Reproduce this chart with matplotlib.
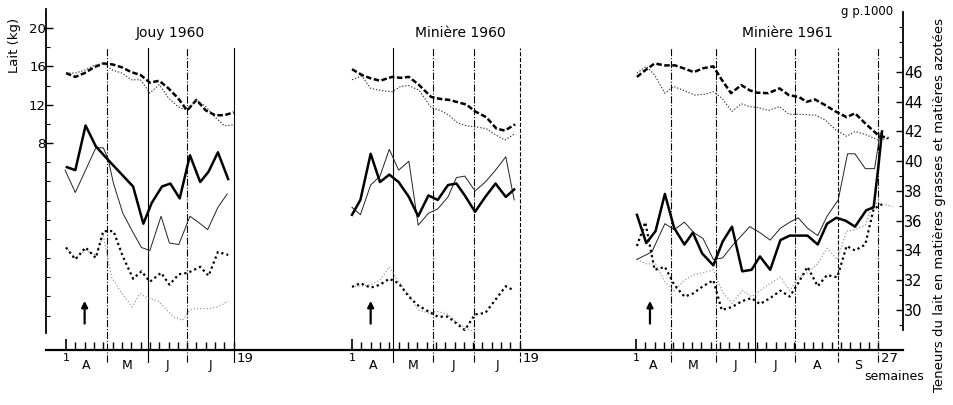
import numpy as np
import matplotlib
matplotlib.use("Agg")
import matplotlib.pyplot as plt
from matplotlib.transforms import blended_transform_factory

# --- layout of the three trials on one week axis ---
panel_names = ["Jouy 1960", "Minière 1960", "Minière 1961"]
panel_offset = [0.0, 30.69, 61.16]
panel_weeks = [19, 19, 27]
panel_end_label = ["19", "19", "27"]
month_bounds = [[5.4, 9.8, 14.0, 19.0],
                [5.45, 9.7, 14.1, 19.0],
                [4.76, 9.6, 13.8, 18.1, 22.7, 27.0]]
month_styles = [["-.", "-", "-.", "-"],
                ["-", "-.", "-.", "--"],
                ["-.", "-.", "-", "-.", "--", "-."]]
month_labels = [["A", "M", "J", "J"],
                ["A", "M", "J", "J"],
                ["A", "M", "J", "J", "A", "S"]]
title_week = [12.2, 12.6, 17.3]
arrow_week = [3.0, 3.0, 2.5]

# --- Jouy 1960 ---
j60_milk_wk = list(range(1, 20))
j60_milk_1 = [15.3, 14.9, 15.3, 15.9, 16.3, 16.2, 15.9, 15.4, 15.1, 14.3, 14.5, 13.7, 12.7, 11.4, 12.5, 11.4, 10.9, 10.9, 11.2]
j60_milk_2 = [15.3, 15.3, 15.6, 16.1, 16.3, 15.6, 15.3, 14.6, 14.6, 13.2, 14.1, 12.7, 11.8, 11.4, 12.5, 11.8, 10.7, 9.8, 9.9]
j60_fat1_wk = [1.1, 2.0, 3.1, 4.2, 5.5, 7.0, 8.2, 9.3, 10.2, 11.3, 12.2, 13.2, 14.3, 15.4, 16.3, 17.3, 18.4]
j60_fat1 = [39.6, 39.4, 42.4, 41.0, 40.1, 39.1, 38.3, 35.8, 37.2, 38.3, 38.5, 37.5, 40.4, 38.6, 39.3, 40.6, 38.8]
j60_fat2_wk = [0.9, 2.0, 4.2, 5.0, 5.5, 6.1, 7.1, 8.2, 9.1, 10.0, 11.2, 12.1, 13.1, 14.3, 15.2, 16.2, 17.3, 18.3]
j60_fat2 = [39.4, 37.9, 40.9, 40.9, 40.2, 38.5, 36.5, 35.2, 34.2, 34.0, 36.3, 34.5, 34.4, 36.3, 35.9, 35.4, 36.9, 37.8]
j60_prot1_wk = [1.0, 2.0, 3.1, 4.2, 5.0, 6.1, 7.1, 8.2, 9.1, 10.0, 11.2, 12.1, 13.1, 14.1, 15.4, 16.3, 17.3, 18.4]
j60_prot1 = [34.2, 33.4, 34.2, 33.5, 35.3, 35.3, 33.6, 32.1, 32.6, 31.9, 32.5, 31.7, 32.4, 32.5, 32.9, 32.3, 33.9, 33.7]
j60_prot2_wk = [1.0, 2.0, 3.1, 4.2, 5.0, 5.9, 6.8, 8.1, 8.9, 9.8, 10.9, 12.5, 13.5, 14.3, 15.0, 16.4, 17.3, 18.4]
j60_prot2 = [34.2, 33.5, 34.0, 33.7, 35.0, 32.2, 31.3, 30.2, 31.1, 30.8, 30.6, 29.55, 29.3, 30.0, 30.1, 30.1, 30.2, 30.6]

# --- Minière 1960 ---
m60_milk_wk = [1.0, 2.05, 3.0, 4.0, 5.3, 6.2, 7.1, 8.2, 9.5, 10.5, 11.4, 12.4, 13.3, 14.2, 15.4, 16.5, 17.4, 18.5]
m60_milk_1 = [15.7, 15.1, 14.75, 14.5, 14.9, 14.8, 14.9, 14.05, 12.8, 12.6, 12.5, 12.25, 12.0, 11.3, 10.7, 9.5, 9.3, 9.95]
m60_milk_2 = [14.6, 15.0, 13.7, 13.5, 13.35, 13.9, 14.0, 13.5, 11.7, 11.4, 10.9, 10.05, 9.8, 9.7, 9.5, 8.8, 8.3, 9.0]
m60_wk = [1.0, 1.9, 3.0, 4.0, 5.0, 6.0, 7.1, 8.1, 9.2, 10.2, 11.3, 12.2, 13.1, 14.2, 15.3, 16.4, 17.5, 18.4]
m60_fat1 = [36.4, 37.4, 40.5, 38.6, 39.1, 38.6, 37.6, 36.3, 37.7, 37.4, 38.4, 38.5, 37.7, 36.6, 37.6, 38.5, 37.6, 38.1]
m60_fat2 = [36.9, 36.4, 38.4, 39.0, 40.8, 39.4, 40.0, 35.7, 36.5, 36.8, 37.6, 38.9, 39.0, 38.0, 38.6, 39.4, 40.3, 37.4]
m60_prot1 = [31.55, 31.8, 31.5, 31.7, 32.1, 31.8, 30.9, 30.3, 29.9, 29.55, 29.55, 29.1, 28.65, 29.7, 29.8, 30.7, 31.6, 31.3]
m60_prot2 = [31.6, 31.6, 31.7, 32.0, 32.9, 31.9, 31.0, 30.0, 29.8, 29.9, 29.7, 29.2, 28.8, 28.5]

# --- Minière 1961 ---
m61_milk1_wk = [1.1, 2.0, 3.0, 4.1, 5.2, 6.1, 7.2, 8.2, 9.3, 10.2, 11.2, 12.3, 13.2, 14.0, 15.2, 16.4, 17.4, 18.5,
                19.3, 20.2, 21.3, 22.4, 23.6, 24.5, 25.6, 27.0, 28.1]
m61_milk_1 = [14.9, 15.6, 16.3, 16.1, 16.1, 15.8, 15.4, 15.8, 16.0, 14.6, 13.2, 14.05, 13.5, 13.25, 13.2, 13.7, 13.0, 12.8,
              12.3, 12.55, 11.95, 11.3, 10.7, 11.1, 10.05, 8.8, 8.5]
m61_milk2_wk = [1.1, 2.1, 3.0, 4.1, 5.0, 6.1, 7.3, 8.4, 9.3, 10.2, 11.3, 12.3, 13.2, 14.1, 15.2, 16.4, 17.4, 18.5,
                20.3, 21.3, 22.4, 23.6, 24.5, 25.6, 27.0, 28.1]
m61_milk_2 = [15.3, 16.0, 15.1, 13.2, 13.9, 13.5, 13.0, 13.1, 13.35, 12.7, 11.3, 12.1, 11.8, 11.7, 11.4, 11.8, 11.0, 11.0,
              10.9, 10.4, 9.4, 8.7, 9.2, 8.9, 8.3, 8.5]
m61_fat1_wk = [1.1, 2.1, 3.1, 4.1, 5.1, 6.2, 7.1, 8.1, 9.3, 10.3, 11.3, 12.4, 13.4, 14.3, 15.4, 16.5, 17.5, 18.4,
               19.4, 20.5, 21.5, 22.5, 23.5, 24.5, 25.7, 26.5, 27.0, 27.4]
m61_fat1 = [36.4, 34.5, 35.3, 37.8, 35.5, 34.4, 35.2, 33.8, 33.0, 34.6, 35.6, 32.6, 32.7, 33.6, 32.7, 34.7, 35.0, 35.0,
            35.0, 34.4, 35.8, 36.2, 36.0, 35.6, 36.7, 36.9, 39.6, 42.0]
m61_fat2_wk = [1.1, 2.7, 4.1, 5.1, 6.2, 7.2, 8.2, 9.3, 10.3, 11.3, 13.2, 14.3, 15.4, 16.5, 17.5, 18.4, 19.4, 20.5,
               21.5, 22.7, 23.7, 24.5, 25.6, 26.6, 27.2]
m61_fat2 = [33.4, 33.9, 35.8, 35.4, 35.9, 35.2, 34.8, 33.4, 33.5, 34.3, 35.6, 35.2, 34.7, 35.5, 35.9, 36.2, 35.5, 35.0,
            36.3, 37.4, 40.5, 40.5, 39.5, 39.5, 41.9]
m61_prot1_wk = [1.1, 2.0, 3.0, 4.1, 5.1, 6.2, 7.1, 8.2, 9.3, 10.2, 11.3, 12.4, 13.4, 14.3, 15.4, 16.5, 17.5, 18.4,
                19.4, 20.5, 21.5, 22.6, 23.6, 24.5, 25.6, 26.5, 27.4]
m61_prot1 = [34.3, 35.9, 32.7, 32.9, 31.7, 30.9, 31.1, 31.6, 32.0, 30.0, 30.2, 30.6, 30.8, 30.4, 30.8, 31.3, 30.9, 31.8,
             32.9, 31.6, 32.35, 32.2, 34.3, 34.0, 34.4, 36.8, 37.1]
m61_prot2_wk = [1.1, 2.1, 3.1, 4.1, 5.1, 6.2, 7.1, 8.2, 9.3, 10.3, 11.3, 12.4, 13.4, 14.3, 15.4, 16.5, 17.5, 18.4,
                19.4, 20.5, 21.5, 22.6, 23.6, 24.5, 25.6, 26.5, 27.6, 28.5]
m61_prot2 = [33.4, 33.1, 33.1, 31.9, 31.3, 32.0, 32.35, 32.5, 32.7, 31.2, 30.45, 31.3, 30.9, 31.3, 31.8, 32.2, 31.3, 32.2,
             32.5, 33.1, 34.15, 33.4, 35.3, 35.4, 35.7, 37.2, 37.1, 36.95]

# line styles
st_milk1 = dict(color="black", lw=1.8, dashes=(2.2, 1.0))
st_milk2 = dict(color="#333333", lw=0.8, dashes=(1.2, 1.6))
st_fat1 = dict(color="black", lw=1.8)
st_fat2 = dict(color="#222222", lw=0.7)
st_prot1 = dict(color="black", lw=1.6, dashes=(1.0, 1.4))
st_prot2 = dict(color="#9a9a9a", lw=0.9, dashes=(1.0, 1.6))

milk_series = [
    (0, j60_milk_wk, j60_milk_1, st_milk1), (0, j60_milk_wk, j60_milk_2, st_milk2),
    (1, m60_milk_wk, m60_milk_1, st_milk1), (1, m60_milk_wk, m60_milk_2, st_milk2),
    (2, m61_milk1_wk, m61_milk_1, st_milk1), (2, m61_milk2_wk, m61_milk_2, st_milk2),
]
content_series = [
    (0, j60_prot2_wk, j60_prot2, st_prot2), (0, j60_prot1_wk, j60_prot1, st_prot1),
    (0, j60_fat2_wk, j60_fat2, st_fat2), (0, j60_fat1_wk, j60_fat1, st_fat1),
    (1, m60_wk[:len(m60_prot2)], m60_prot2, st_prot2), (1, m60_wk, m60_prot1, st_prot1),
    (1, m60_wk, m60_fat2, st_fat2), (1, m60_wk, m60_fat1, st_fat1),
    (2, m61_prot2_wk, m61_prot2, st_prot2), (2, m61_prot1_wk, m61_prot1, st_prot1),
    (2, m61_fat2_wk, m61_fat2, st_fat2), (2, m61_fat1_wk, m61_fat1, st_fat1),
]

W, H = 954, 405
fig = plt.figure(figsize=(W / 100, H / 100), dpi=100)
ax = fig.add_axes([46 / W, 1 - 350 / H, (903 - 46) / W, (350 - 8) / H])
ax2 = ax.twinx()

ax.set_xlim(-1.146, 90.81)
ax.set_ylim(-13.6, 22.09)
ax2.set_ylim(27.31, 50.30)

for p, wk, val, st in milk_series:
    ax.plot(np.array(wk) + panel_offset[p], val, **st)
for p, wk, val, st in content_series:
    ax2.plot(np.array(wk) + panel_offset[p], val, **st)

# spines
for a in (ax, ax2):
    a.spines["top"].set_visible(False)
ax2.spines["left"].set_visible(False)
ax2.spines["bottom"].set_visible(False)
ax.spines["right"].set_visible(False)
ax.spines["left"].set_bounds(-11.8, 22.0)
ax.spines["left"].set_linewidth(1.3)
ax.spines["bottom"].set_linewidth(1.6)
ax2.spines["right"].set_bounds(28.66, 50.0)
ax2.spines["right"].set_linewidth(1.3)

# left axis: Lait (kg)
ax.set_yticks([8, 12, 16, 20])
ax.set_yticks(np.arange(-10, 22, 2), minor=True)
ax.tick_params(axis="y", which="major", direction="in", length=5, width=1, pad=0, labelsize=9.5)
ax.tick_params(axis="y", which="minor", direction="in", length=3, width=0.8)

# right axis: g p.1000
ax2.set_yticks(np.arange(30, 47, 2))
ax2.set_yticks(np.arange(29, 50, 1), minor=True)
ax2.tick_params(axis="y", which="major", direction="in", length=5, width=1, pad=1, labelsize=10.5)
ax2.tick_params(axis="y", which="minor", direction="in", length=3, width=0.8)

# week ticks along the bottom
week_pos = []
start_pos = []
for p in range(3):
    start_pos.append(panel_offset[p] + 1)
    week_pos += [panel_offset[p] + w for w in range(2, panel_weeks[p] + 1)]
ax.set_xticks(start_pos)
ax.set_xticks(week_pos, minor=True)
ax.set_xticklabels([])
ax.tick_params(axis="x", which="major", direction="in", length=8, width=1.2)
ax.tick_params(axis="x", which="minor", direction="in", length=5.5, width=1.0)

trans = blended_transform_factory(ax.transData, ax.transAxes)
for p in range(3):
    off = panel_offset[p]
    edges = [1.0] + month_bounds[p]
    for b, ls in zip(month_bounds[p], month_styles[p]):
        ax.plot([b + off, b + off], [-0.035, 0.883], transform=trans, color="black",
                lw=0.8, ls=ls, clip_on=False)
    for i, lab in enumerate(month_labels[p]):
        ax.text((edges[i] + edges[i + 1]) / 2 + off, -0.046, lab, transform=trans,
                ha="center", va="center", fontsize=9)
    ax.text(1 + off, -0.022, "1", transform=trans, ha="center", va="center", fontsize=8)
    ax.text(panel_weeks[p] + off + 0.25, -0.024, panel_end_label[p], transform=trans,
            ha="left", va="center", fontsize=9.5)
    ax.text(title_week[p] + off, 0.927, panel_names[p], transform=trans,
            ha="center", va="center", fontsize=10)
    ax2.annotate("", xy=(arrow_week[p] + off, 30.8), xytext=(arrow_week[p] + off, 28.9),
                 arrowprops=dict(arrowstyle="-|>", color="black", lw=1.6, mutation_scale=9))

fig.text(15 / W, 1 - 45 / H, "Lait (kg)", rotation=90, ha="center", va="center", fontsize=9.5)
fig.text(893 / W, 1 - 12 / H, "g p.1000", ha="right", va="center", fontsize=8.5)
fig.text(894 / W, 1 - 377 / H, "semaines", ha="center", va="center", fontsize=9)
fig.text(940 / W, 1 - 205 / H, "Teneurs du lait en matières grasses et matières azotées",
         rotation=90, ha="center", va="center", fontsize=9.5)

fig.savefig("out.png", dpi=100)
